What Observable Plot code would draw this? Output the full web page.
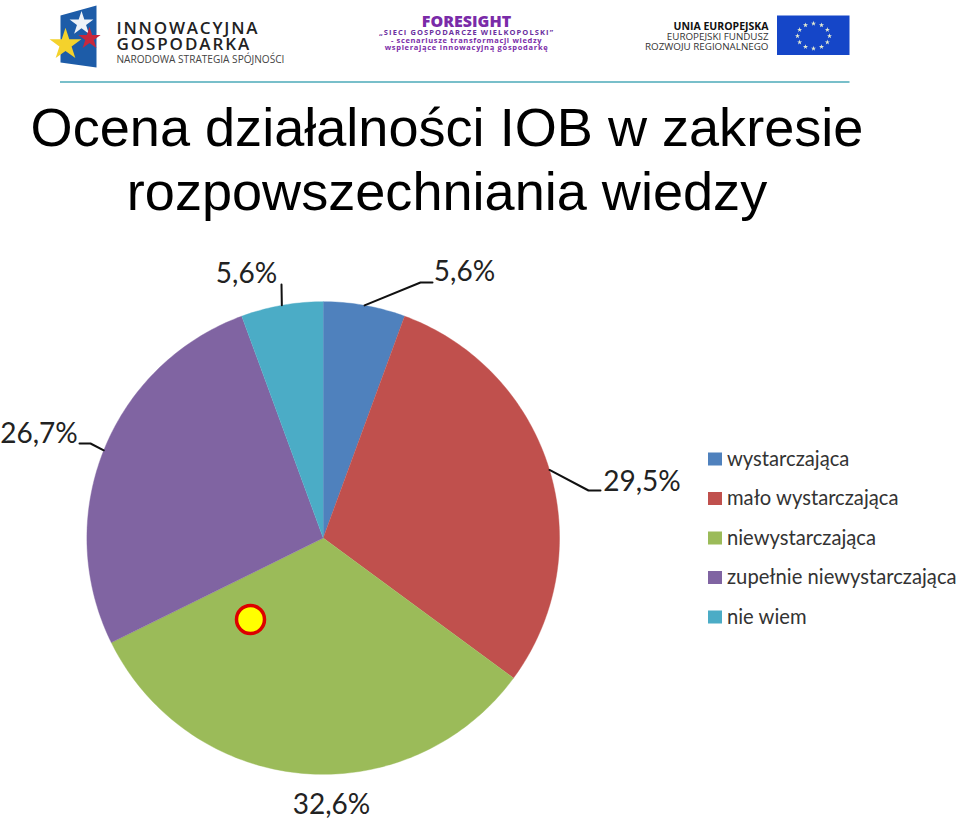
<!DOCTYPE html>
<html lang="pl">
<head>
<meta charset="utf-8">
<script src="https://cdn.jsdelivr.net/npm/d3@7"></script>
<script src="https://cdn.jsdelivr.net/npm/@observablehq/plot@0.6"></script>
<style>
html,body{margin:0;padding:0;background:#fff;overflow:hidden}
svg{display:block}
</style>
</head>
<body>
<div id="chart"></div>
<script>
// Data
const categories = ["wystarczająca","mało wystarczająca","niewystarczająca","zupełnie niewystarczająca","nie wiem"];
const shares = [5.6, 29.5, 32.6, 26.7, 5.6];
const sliceColors = ["#4F81BD","#C0504D","#9BBB59","#8064A2","#4BACC6"];
const titleLines = ["Ocena działalności IOB w zakresie","rozpowszechniania wiedzy"];

// Layout
const W = 959, H = 820;
const cx = 322.7, cy = 537.5, R = 236.3;
const labelPos = [[464,272],[641.5,482],[331,805],[38.5,434],[246,274]];
const elbows = [[[420,282],[432,282]],[[588,490],[600,490]],null,[[90,443],[79,443]],[[281,284]]];

const total = d3.sum(shares);
const polar = (deg, r = R) => {
  const a = deg * Math.PI / 180;
  return {x: cx + r * Math.sin(a), y: cy - r * Math.cos(a)};
};
const cum = d3.cumsum(shares);
const slices = categories.map((c, i) => {
  const end = cum[i] / total * 360, start = end - shares[i] / total * 360;
  return {c, i, start, end, mid: (start + end) / 2};
});
const pieOutline = slices.flatMap(s => {
  const n = Math.ceil(s.end - s.start);
  const rim = d3.range(n + 1).map(k => polar(s.start + (s.end - s.start) * k / n));
  return [{x: cx, y: cy}, ...rim].map(p => ({...p, c: s.c}));
});
const leaders = slices.flatMap(s => elbows[s.i]
  ? [polar(s.mid), ...elbows[s.i].map(([x, y]) => ({x, y}))].map(p => ({...p, c: s.c}))
  : []);
const labels = slices.map(s => ({
  text: shares[s.i].toFixed(1).replace(".", ",") + "%",
  x: labelPos[s.i][0], y: labelPos[s.i][1]
}));
const legendRows = categories.map((c, i) => ({c, y: 459 + i * 39.5}));

// Logos
const purple = "#7A2BA8";
const logoText = [
  {t:"INNOWACYJNA", x:116, y:31, s:17, w:600, f:"#222", a:"start", ls:1.8},
  {t:"GOSPODARKA", x:116, y:47.5, s:17, w:600, f:"#222", a:"start", ls:1.9},
  {t:"NARODOWA STRATEGIA SPÓJNOŚCI", x:116, y:60, s:10.1, w:400, f:"#444", a:"start", ls:0},
  {t:"FORESIGHT", x:466, y:24, s:16, w:800, f:purple, a:"middle", ls:0},
  {t:"„SIECI GOSPODARCZE WIELKOPOLSKI”", x:466, y:32, s:7.5, w:700, f:"#6a2fa0", a:"middle", ls:1.1},
  {t:"- scenariusze transformacji wiedzy", x:466, y:40, s:7.5, w:700, f:purple, a:"middle", ls:0.65},
  {t:"wspierające innowacyjną gospodarkę", x:466, y:47, s:7.5, w:700, f:purple, a:"middle", ls:0.7},
  {t:"UNIA EUROPEJSKA", x:768, y:27.5, s:10.5, w:700, f:"#111", a:"end", ls:0},
  {t:"EUROPEJSKI FUNDUSZ", x:768, y:37, s:9.8, w:400, f:"#333", a:"end", ls:0},
  {t:"ROZWOJU REGIONALNEGO", x:768, y:47, s:9.8, w:400, f:"#333", a:"end", ls:0}
];
const euStars = d3.range(12).map(k => {
  const a = k * 30 * Math.PI / 180;
  return {x: 813 + 16 * Math.sin(a), y: 35.5 - 12.5 * Math.cos(a)};
});
const flagShape = [{x:60,y:15},{x:96,y:5},{x:96,y:67},{x:60,y:62}];

const textMarks = logoText.map(d => Plot.text([d], {
  x:"x", y:"y", text:"t", fontSize:d.s, fontWeight:d.w, fill:d.f, textAnchor:d.a,
  lineAnchor:"bottom", fontFamily:"'Open Sans', sans-serif", dy:2
}));

const chart = Plot.plot({
  width: W, height: H,
  margin: 0,
  x: {domain:[0,W], range:[0,W], axis:null},
  y: {domain:[0,H], range:[0,H], axis:null},
  color: {domain: categories, range: sliceColors},
  style: {background:"#fff"},
  marks: [
    // header
    Plot.line(flagShape.concat(flagShape[0]), {x:"x", y:"y", fill:"#1D5CA8", stroke:"none"}),
    Plot.dot([{x:81,y:23}], {x:"x", y:"y", symbol:"star", r:7.5, fill:"#EEF2F8", stroke:"none"}),
    Plot.dot([{x:89,y:38}], {x:"x", y:"y", symbol:"star", r:7, fill:"#C8283C", stroke:"none"}),
    Plot.dot([{x:65,y:44}], {x:"x", y:"y", symbol:"star", r:10, fill:"#F4D22C", stroke:"none"}),
    ...textMarks,
    Plot.rect([{x1:777,x2:849.5,y1:15.5,y2:55}], {x1:"x1", x2:"x2", y1:"y1", y2:"y2", fill:"#1546C8"}),
    Plot.dot(euStars, {x:"x", y:"y", symbol:"star", r:1.6, fill:"#E6ECD0", stroke:"none"}),
    Plot.ruleY([81.5], {x1:60, x2:849.5, stroke:"#4BAAB8", strokeWidth:1.6}),
    // title
    Plot.text(titleLines.map((t, i) => ({t, y:[146,210][i]})), {
      x:()=>446.5, y:"y", text:"t", fontSize:54.1, fill:"#000",
      fontFamily:"'Liberation Sans', Arial, sans-serif", lineAnchor:"bottom", dy:-1
    }),
    // pie
    Plot.line(pieOutline, {x:"x", y:"y", z:"c", fill:"c", stroke:"c", strokeWidth:0.4}),
    // leaders
    Plot.line(leaders, {x:"x", y:"y", z:"c", stroke:"#111", strokeWidth:2}),
    // labels
    Plot.text(labels, {x:"x", y:"y", text:"text", fontSize:28, fill:"#222", fontFamily:"Lato, sans-serif"}),
    // legend
    Plot.rect(legendRows, {x1:()=>708, x2:()=>722, y1:d=>d.y-6.5, y2:d=>d.y+6.5, fill:"c"}),
    Plot.text(legendRows, {x:()=>726.5, y:"y", text:"c", textAnchor:"start", fontSize:20.2, fill:"#333", fontFamily:"Lato, sans-serif"}),
    // highlighted marker
    Plot.dot([{x:250,y:619}], {x:"x", y:"y", r:14, fill:"#FFFF00", stroke:"#DD0000", strokeWidth:3.5})
  ]
});
// tracked logo lettering
d3.select(chart).selectAll("text").each(function() {
  const hit = logoText.find(d => d.t === this.textContent);
  if (hit && hit.ls) this.setAttribute("letter-spacing", hit.ls);
});
document.getElementById("chart").append(chart);
</script>
</body>
</html>
